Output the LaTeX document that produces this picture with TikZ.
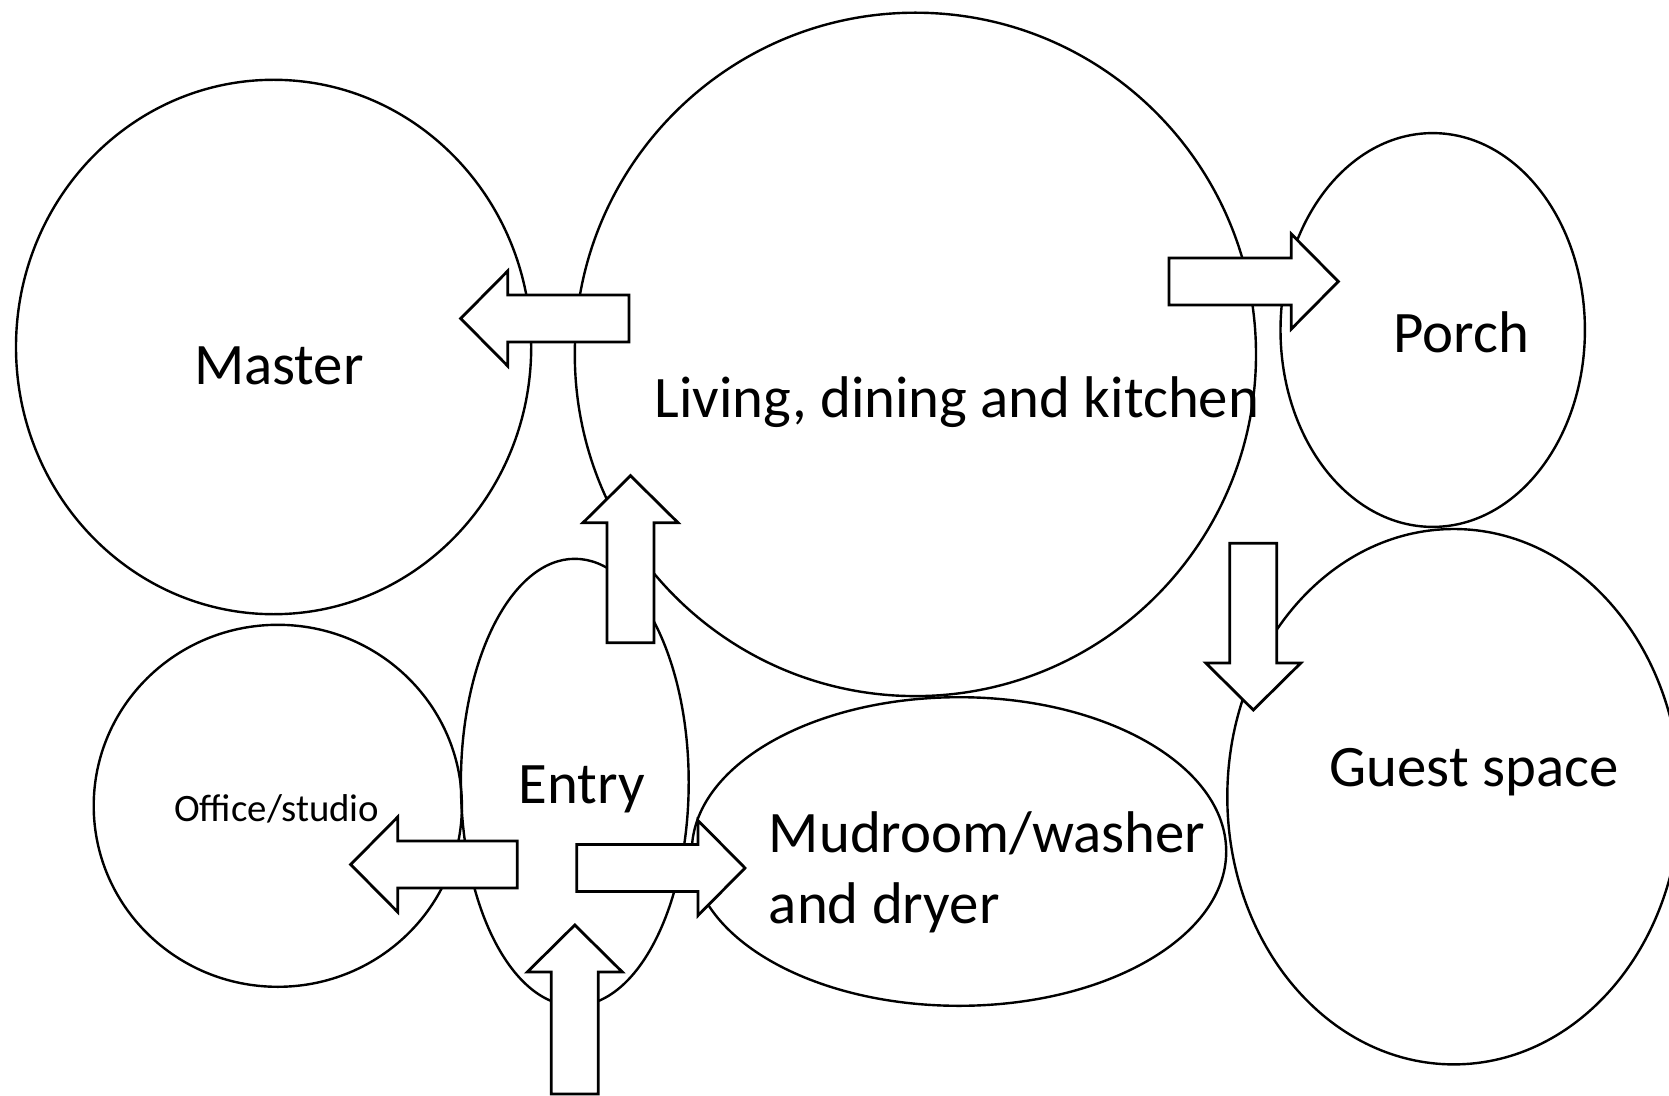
\documentclass[tikz,border=0pt]{standalone}
\usepackage{fontspec}
\setmainfont{Carlito}
\usetikzlibrary{shapes.geometric,calc}
\tikzset{
  room/.style={draw, ellipse, inner sep=0pt, line width=1.2pt},
  lbl/.style={inner sep=0pt, font=\fontsize{29.4}{35.5}\selectfont},
  smalllbl/.style={inner sep=0pt, font=\fontsize{19.4}{23}\selectfont},
  blockarrow/.style={draw, fill=white, line width=1.4pt, line join=miter,
    to path={let \p1=(\tikztostart), \p2=(\tikztotarget),
      \p3=($(\p2)!23.5pt!(\p1)$), \n1={atan2(\y2-\y1,\x2-\x1)} in
      ($(\p1)+(\n1+90:11.75pt)$) -- ($(\p3)+(\n1+90:11.75pt)$) --
      ($(\p3)+(\n1+90:23.75pt)$) -- (\p2) --
      ($(\p3)+(\n1-90:23.75pt)$) -- ($(\p3)+(\n1-90:11.75pt)$) --
      ($(\p1)+(\n1-90:11.75pt)$) -- cycle}}
}
\begin{document}
\begin{tikzpicture}[x=0.5pt,y=-0.5pt]
\useasboundingbox (0,0) rectangle (1669,1096);
% rooms
\node[room, minimum width=257.6pt, minimum height=267.2pt] (master) at (273.6,347) {};
\node[room, minimum width=340.6pt, minimum height=341.7pt] (living) at (915.4,354.4) {};
\node[room, minimum width=152.2pt, minimum height=196.9pt] (porch) at (1432.7,330) {};
\node[room, minimum width=226.5pt, minimum height=267.7pt] (guest) at (1453.8,796.7) {};
\node[room, minimum width=184.1pt, minimum height=181pt] (office) at (277.8,805.8) {};
\node[room, minimum width=113.9pt, minimum height=223.5pt] (entry) at (574.8,782.3) {};
\node[room, minimum width=267.2pt, minimum height=154.3pt] (mud) at (959,851.5) {};
% labels
\node[lbl] (tmaster) at (278.9,366) {Master};
\node[lbl] (tliving) at (957,402) {Living, dining and kitchen};
\node[lbl] (tporch) at (1461.5,332) {Porch};
\node[lbl] (tguest) at (1474,772) {Guest space};
\node[lbl] (tentry) at (582,789) {Entry};
\node[smalllbl] (toffice) at (276.7,809) {Office/studio};
\node[lbl, align=left, anchor=west] (tmud) at (768.5,872) {Mudroom/washer\\and dryer};
% arrow end points
\coordinate (a1s) at (629,318.5);   \coordinate (a1e) at (460.7,318.5);
\coordinate (a2s) at (1169,281.5);  \coordinate (a2e) at (1338.3,281.5);
\coordinate (a3s) at (630.5,642.7); \coordinate (a3e) at (630.5,475.7);
\coordinate (a4s) at (1253.3,543.3);\coordinate (a4e) at (1253.3,710);
\coordinate (a5s) at (517.3,864.5); \coordinate (a5e) at (350.7,864.5);
\coordinate (a6s) at (576.7,868);   \coordinate (a6e) at (745,868);
\coordinate (a7s) at (574.8,1094);  \coordinate (a7e) at (574.8,925);
% block arrows
\draw[blockarrow] (a1s) to (a1e);
\draw[blockarrow] (a2s) to (a2e);
\draw[blockarrow] (a3s) to (a3e);
\draw[blockarrow] (a4s) to (a4e);
\draw[blockarrow] (a5s) to (a5e);
\draw[blockarrow] (a6s) to (a6e);
\draw[blockarrow] (a7s) to (a7e);
\end{tikzpicture}
\end{document}
